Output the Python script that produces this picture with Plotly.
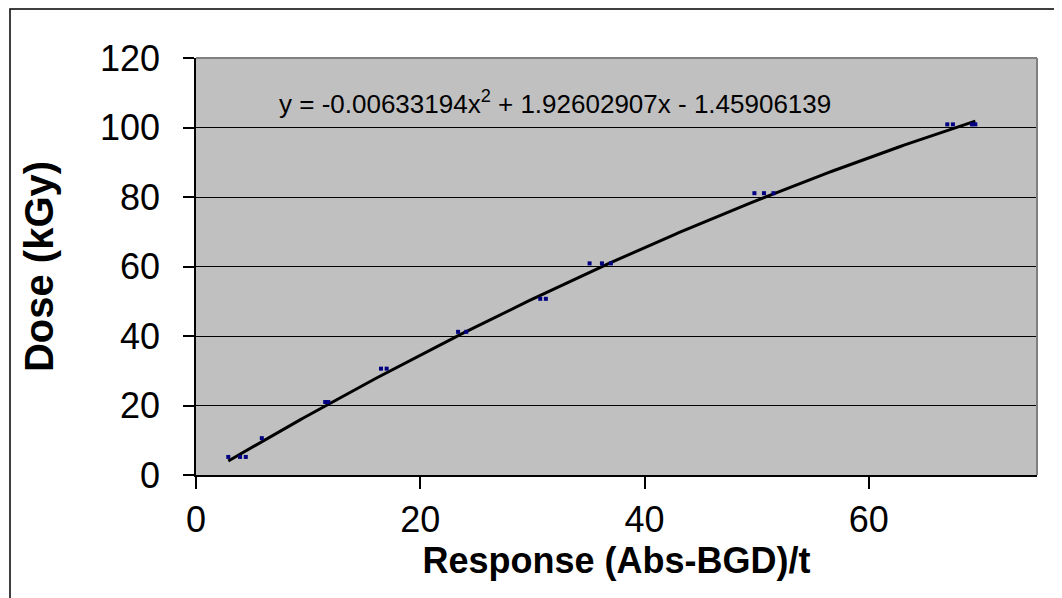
import numpy as np
import plotly.graph_objects as go

# measured points (response, dose)
response = [2.88, 3.93, 4.44, 5.87, 11.52, 11.8, 16.5, 17.0, 23.37, 24.1,
            30.7, 31.2, 35.1, 36.2, 37.0, 49.8, 50.65, 51.5,
            67.0, 67.5, 69.2, 69.5]
dose = [5.2, 5.2, 5.2, 10.6, 21.0, 21.0, 30.6, 30.6, 41.2, 41.2,
        50.7, 50.7, 60.9, 60.9, 60.9, 81.1, 81.1, 81.1,
        100.9, 100.9, 100.9, 100.9]

# trendline coefficients (as printed on the chart)
coef_a = -0.00633194
coef_b = 1.92602907
coef_c = -1.45906139

x_ticks = [0, 20, 40, 60]
y_ticks = [0, 20, 40, 60, 80, 100, 120]

# page body has an 8px margin, so the figure is a bit smaller than the window
W, H = 1054, 590
L, R, T, B = 188, 25, 50, 123
pw, ph = W - L - R, H - T - B

xs = np.linspace(min(response), max(response), 200)
ys = coef_a * xs**2 + coef_b * xs + coef_c

fig = go.Figure()
fig.add_trace(go.Scatter(x=xs, y=ys, mode="lines",
                         line=dict(color="black", width=3), hoverinfo="skip"))
fig.add_trace(go.Scatter(x=response, y=dose, mode="markers",
                         marker=dict(symbol="square", size=4, color="#000080",
                                     line=dict(width=0))))

font = "Liberation Sans, Arial, sans-serif"
fig.update_layout(
    width=W, height=H,
    margin=dict(l=L, r=R, t=T, b=B),
    paper_bgcolor="white", plot_bgcolor="#C0C0C0",
    showlegend=False,
    font=dict(family=font, color="black"),
    xaxis=dict(range=[0, 75], tickvals=x_ticks, showgrid=False, zeroline=False,
               showline=True, linecolor="black", linewidth=1.5,
               ticks="outside", ticklen=12, tickwidth=1.5, tickcolor="black",
               tickfont=dict(size=36, family=font),
               title=dict(text="<b>Response (Abs-BGD)/t</b>", font=dict(size=36, family=font),
                          standoff=8)),
    yaxis=dict(range=[0, 120], tickvals=y_ticks, showgrid=True, gridcolor="black",
               gridwidth=1, zeroline=False,
               showline=True, linecolor="black", linewidth=1.5,
               ticks="outside", ticklen=11, tickwidth=1.5, tickcolor="black",
               ticklabelstandoff=16,
               tickfont=dict(size=36, family=font),
               title=dict(text="<b>Dose (kGy)</b>", font=dict(size=40, family=font),
                          standoff=34)),
)

# plot area border (top & right gray)
fig.add_shape(type="line", xref="paper", yref="paper", x0=0, x1=1, y0=1, y1=1,
              line=dict(color="#808080", width=2))
fig.add_shape(type="line", xref="paper", yref="paper", x0=1, x1=1, y0=0, y1=1,
              line=dict(color="#808080", width=2))
# outer chart frame
fig.add_shape(type="rect", xref="paper", yref="paper",
              x0=(2 - L) / pw, x1=(W + 10 - L) / pw,
              y0=-(B + 10) / ph, y1=(H - B - 1) / ph,
              line=dict(color="black", width=1.5), layer="below")

fig.add_annotation(xref="paper", yref="paper", x=(269 - L) / pw, y=(467 - 94) / ph,
                   xanchor="left", yanchor="middle", showarrow=False,
                   text="y = -0.00633194x<sup>2</sup> + 1.92602907x - 1.45906139",
                   font=dict(size=26, family=font, color="black"))

fig.write_html("out.html")
